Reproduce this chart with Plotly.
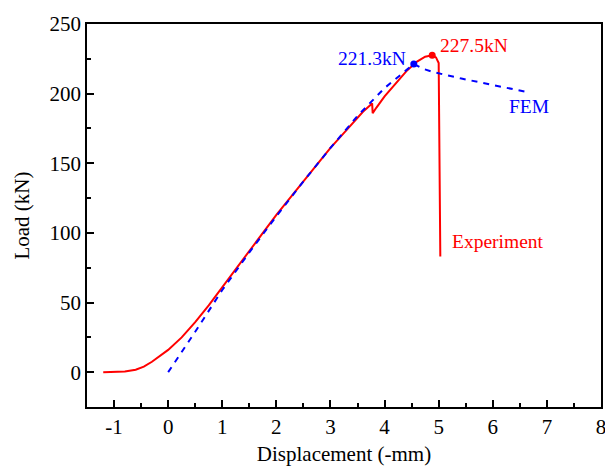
import plotly.graph_objects as go

# Experiment (red)
exp_x = [-1.2, -1.0, -0.8, -0.6, -0.45, -0.3, -0.15, 0.0, 0.25, 0.5, 0.75, 1.0, 1.5, 2.0, 2.5, 3.0, 3.3, 3.6, 3.77, 3.78, 3.85, 4.0, 4.2, 4.4, 4.6, 4.75, 4.88, 4.95, 5.0, 5.01, 5.03]
exp_y = [0, 0.1, 0.5, 1.8, 4, 7.5, 11.5, 16, 25, 36, 48, 61, 87, 113, 137, 161, 174, 187, 193, 186, 190, 198, 207, 216, 223, 226.5, 227.5, 226, 222, 150, 83]

# FEM (blue dashed)
fem_x = [0.0, 0.5, 1.0, 1.5, 2.0, 2.5, 3.0, 3.5, 4.0, 4.3, 4.54, 4.7, 4.9, 5.4, 5.84, 6.3, 6.65]
fem_y = [0, 29, 59, 86, 112, 137, 161, 184, 204, 214, 221.3, 218, 215.5, 211, 207.6, 204, 201]

exp_peak = (4.88, 227.5)
fem_peak = (4.54, 221.3)

x_ticks = [-1, 0, 1, 2, 3, 4, 5, 6, 7, 8]
y_ticks = [0, 50, 100, 150, 200, 250]

font = "Liberation Serif, Times New Roman, serif"

fig = go.Figure()
fig.add_trace(go.Scatter(x=exp_x, y=exp_y, mode="lines",
                         line=dict(color="#ff0000", width=2), showlegend=False))
fig.add_trace(go.Scatter(x=fem_x, y=fem_y, mode="lines",
                         line=dict(color="#0000ff", width=2, dash="6px,6px"), showlegend=False))
fig.add_trace(go.Scatter(x=[exp_peak[0]], y=[exp_peak[1]], mode="markers",
                         marker=dict(color="#ff0000", size=7), showlegend=False))
fig.add_trace(go.Scatter(x=[fem_peak[0]], y=[fem_peak[1]], mode="markers",
                         marker=dict(color="#0000ff", size=7), showlegend=False))

ann_font_r = dict(family=font, size=19.5, color="#ff0000")
ann_font_b = dict(family=font, size=19.5, color="#0000ff")
fig.add_annotation(x=exp_peak[0], y=exp_peak[1], text="227.5kN", showarrow=False,
                   xanchor="left", yanchor="bottom", xshift=6, yshift=-3, font=ann_font_r)
fig.add_annotation(x=fem_peak[0], y=fem_peak[1], text="221.3kN", showarrow=False,
                   xanchor="right", yanchor="middle", xshift=-6, yshift=5, font=ann_font_b)
fig.add_annotation(x=6.66, y=191, text="FEM", showarrow=False,
                   xanchor="center", yanchor="middle", font=ann_font_b)
fig.add_annotation(x=5.2, y=94, text="Experiment", showarrow=False,
                   xanchor="left", yanchor="middle", font=ann_font_r)

axis_common = dict(showgrid=False, zeroline=False, showline=True, linecolor="black",
                   linewidth=1.5, mirror=True, ticks="inside", ticklen=7, tickwidth=1.5,
                   tickcolor="black", tickfont=dict(family=font, size=21, color="black"),
                   title_font=dict(family=font, size=21, color="black"), automargin=False,
                   ticklabeloverflow="allow")

fig.update_xaxes(range=[-1.5, 8], tickvals=x_ticks, ticktext=[str(v) for v in x_ticks],
                 title_text="Displacement (-mm)", title_standoff=11,
                 minor=dict(ticks="inside", ticklen=4, tickwidth=1.5, tickcolor="black", dtick=0.5, tick0=0.5),
                 **axis_common)
fig.update_yaxes(range=[-25, 250], tickvals=y_ticks, ticktext=[str(v) for v in y_ticks],
                 title_text="Load (kN)", title_standoff=14,
                 minor=dict(ticks="inside", ticklen=4, tickwidth=1.5, tickcolor="black", dtick=25, tick0=25),
                 **axis_common)

fig.update_layout(width=605, height=466, margin=dict(l=87, r=4, t=24, b=59),
                  plot_bgcolor="white", paper_bgcolor="white")

fig.write_html("out.html")
